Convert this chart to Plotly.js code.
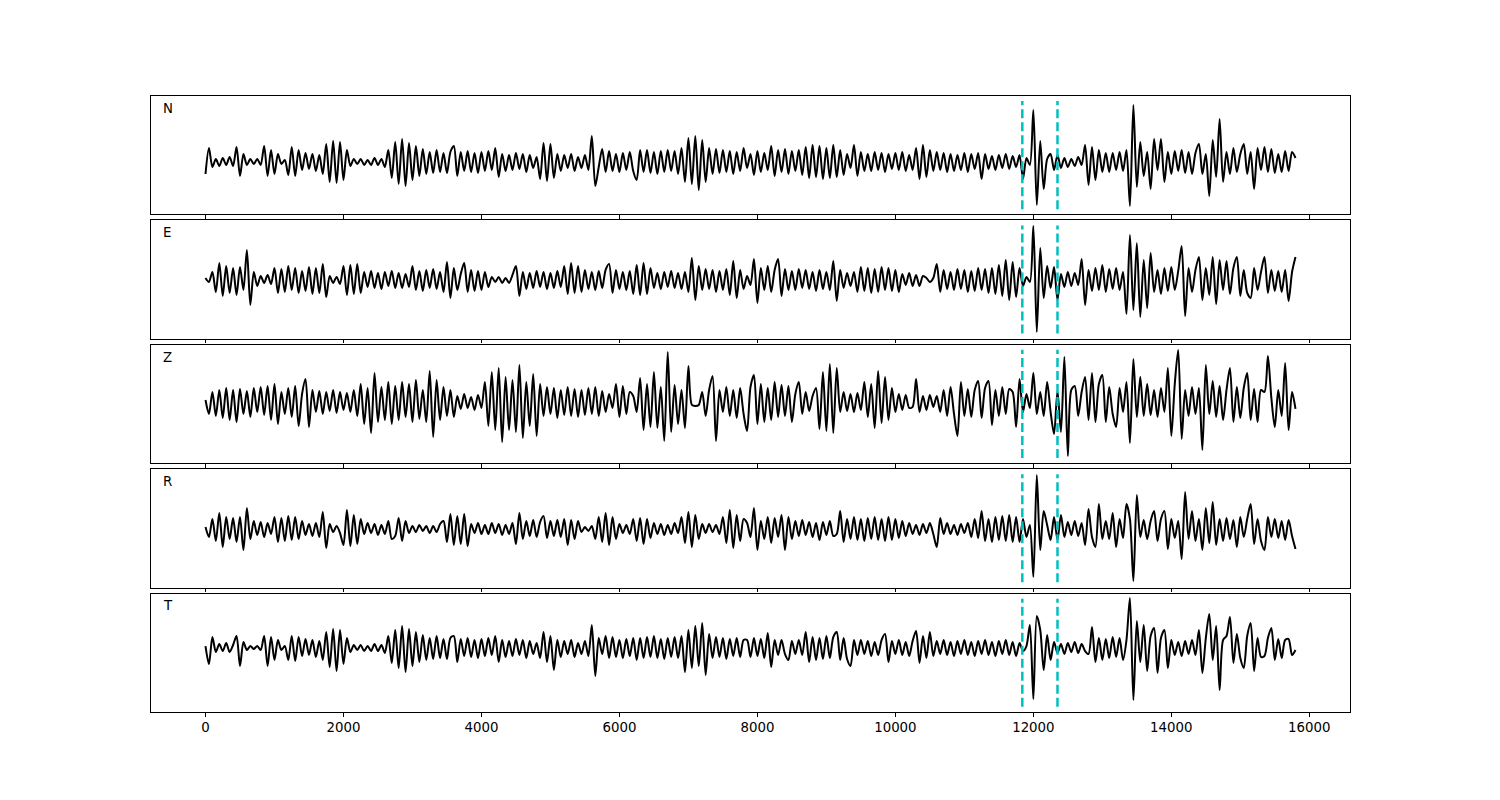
<!DOCTYPE html>
<html>
<head>
<meta charset="utf-8">
<script src="https://cdn.plot.ly/plotly-3.0.1.min.js"></script>
<style>html,body{margin:0;padding:0;background:#fff;}#chart{width:1500px;height:800px;}</style>
</head>
<body>
<div id="chart"></div>
<script>
// sample spacing of the traces (x units)
const dt = 50;
// picked phase times (dashed cyan lines)
const picks = [11840, 12350];
const channels = ['N', 'E', 'Z', 'R', 'T'];
const tickValues = [0, 2000, 4000, 6000, 8000, 10000, 12000, 14000, 16000];

// trace amplitudes (relative units)
const traceN = [
 -12, 14, -5,
 3, -4, 4, -3, 5, -4,
 15, -14, 8,
 -3, 3, -2, 3, -3,
 16, -14, 12, -12, 8,
 -2, 2,
 -13, 15, -14, 12,
 -8, 9, -7, 8, -9, 7,
 -12, 18, -20, 21, -21, 20, -18, 12,
 -4, 3, -2, 3, -3, 2, -3, 4, -3, 3, -5,
 12, -16, 20, -22, 23, -24, 19, -18, 16, -14, 13, -12,
 10, -11, 12, -10, 9, -11, 10,
 16, -14,
 10, -9, 11, -10, 9, -11, 10, -9, 11, -8,
 14, -15,
 8, -9, 7, -8, 9, -7, 8, -10, 7, -6, 5,
 -17, 19, -19, 18, -16,
 8, -9, 7, -6, 8, -9, 5, -6, 7, -8,
 26, -24, -5,
 13, -10, 11, -9, 8, -10, 9, -8, 10, -9,
 -18, 12,
 -10, 12, -11, 10, -12, 11, -10, 12, -9, 11, -12, 14,
 -20, 24, -22, 26, -28, 22, -20, 14,
 -12, 13, -11, 12, -10, 11, -12, 10, -9, 14,
 -6, 8, -13, 11, -10, 9, -8, 16, -14,
 12, -10, 13, -12, 11, -9, 12, -13,
 15, -16, 17, -15, 16, -17, 14, -16, 17, -15, 12, -13, 8,
 -6, 17, -14, 10, -9, 8,
 -9, 10, -8, 9, -10, 8, -7, 9, -8, 10, -9, 7, -8,
 14, -17, 17, -15, 12,
 -9, 10, -8, 9, -10, 8, -9, 7, -8, 9, -10, 8, -7, 9, -17,
 8, -7, 6, -8, 7, -6, 8, -7, 6, -5, 7,
 -17, 4, -3,
 52, -43, 21, -27, 3, 8, -8, 7, -6,
 4, -5, 3, -4, 5, -3,
 17, -23, 15, -18, 12, -10, 9,
 -10, 9, -8, 10, -9, 12,
 -44, 57, -25, 20, -14,
 10, -27, 23, -8, 23, -20,
 10, -12, 11, -9, 12, -11, 10, -12, 9,
 18, -12, 8, -34, 22, -15, 43, -20, 10,
 -12, 14, -10, 8, 18, -12, 10, -27,
 14, -8, 15, -10, 13, -11,
 8, -10, 11, -9, 10, 4
];

const traceE = [
 2, -2,
 8, -12, 17, -16, 14, -13, 12, -15, 13, -10, 30, -25,
 8, -6, 4, -3, 5, -4,
 12, -13, 11, -12, 14, -10, 12, -13, 9, -11,
 13, -14, 12, -13, 16, -17,
 4, -3, 3, -4,
 14, -15, 15, -14, 16, -13,
 8, -7, 9, -8, 7, -9, 8, -6, 9, -8, 7, -8, 6,
 -7, 14, -10, 9, -11, 10, -8, 11, -9, 8,
 -12, 18, -18, 12,
 -10, 6, 17, -12, 10, -11, 9, -10, 8, -7,
 3, -2, 3, -3, 2, -3,
 5, 14, -16, 8, -9, 7, -8, 9, -7, 8, -9, 7, -8, 9, -7,
 14, -14, 17, -13, 14, -12,
 10, -9, 8, -10, 9, -8, 10, 16, -13, 10, -9, 8, -10, 9,
 -14, 15, -15, 17, -14, 12,
 -8, 7, -9, 8, -7, 9, -8, 7, -9, 8,
 -12, 22, -20, 14,
 -10, 11, -9, 10, -12, 9, -10, 11, -15, 19, -18, 10, -9,
 4, -5, 21, -23, 12, -10, 14,
 -12, 10, 21, -16, 11, -10,
 9, -10, 11, -8, 10, -9, 8, -11, 10, -9, 8, -10,
 19, -21, 10,
 -8, 7, -6, 8,
 -12, 13, -11, 12, -13, 11, -12, 13, -10, 12, -11, 10, -12,
 6, -5, 7, -6, 5, -6, 4,
 2, -2, 2,
 16, -12,
 10, -9, 8, -10, 11, -9, 10, -12, 9, -11, 12, -10, 11, -13, 12, -14, 15, -16, 20, -20, 18, -17, 12,
 -6, 3, -2,
 54, -52, 32, -18, 14, -8, 13, -20, 6,
 -7, 8, -6, 7, -5,
 21, -25, 10,
 -11, 12, -10, 15, -12, 11, -9, 12, -10, 8,
 -34, 45, -30, 37, -37, 20, -28, 27, -12,
 10, -14, 12, -11, 13, -10, 9,
 34, -36, 12,
 -12, 10, 23, -20, 12, -15, 23, -24, 20, -10, 19, -14, 12, 23, -16, 10,
 -13, -18, 12, -10, 8, 23, -13, 10, -11, 9, -12, 10, -21, 8, 23
];

const traceZ = [
 2, -12, 10, -14, 12, -16, 14, -18, 12, -20, 13, -12, 11, -15, 14, -10,
 15, -13, 16, -18, 18, -22, 10,
 -12, 14, -15, 16, -24, 8, 23, -25,
 12, -10, 11, -12, 10, -9, 12, -11, 10, -8, 9, -10,
 12, -14, 18, -22, 14, -31, 29, -20,
 15, -18, 20, -22, 16, -18, 20, -15, 18, -20, 22, -17,
 12, -20, 31, -35, 22, -18,
 15, -14, 12, -15,
 6, -7, 8, -6, 5, -8, 7, -6,
 20, -24, 30, -28, 34, -40, 25, -28, 22, -30, 37, -36, 20, -24, 28, -34,
 18, -14, 15, -12, 14, -16, 12, -13, 15, -14, 13, -15, 12, -13, 14, -12, 15, -14, 11, -10, 8,
 -6, 18, -15, 16, -12, 10,
 6, -10, 24, -28, 18, -25, 30, -26, 15, -39, 50, -30, 17, -22, 12, -26, 36,
 -3, -4, -3,
 10, -14, 12,
 26, -39, 12,
 -10, 15, -14, 12, -16, 14, -12,
 -29, 15, 27, -22, 18, -20, 14,
 -18, 20, -15, 17, -14, 16, -20,
 8, 20, -12, 10, -9,
 6, 14, -27, 30, -29, 38, -31, 34, -10,
 10, -9, 8, -10, 9, -8,
 20, -15, 18, -26, 31, -21, 25, -18, 14, -10,
 8, -8, 7, -6, -5,
 23, -10,
 6, -8, 7, -5, 6,
 -10, 12, -14, 15, -12, -34, 20, -14, 13, -15, 12, 21, -16, 14, 21, -23,
 12, -14, 15, -12, 13, 10, -25, 23,
 -10, 8, -6, 29,
 -12, 10, -14, 20, -10, -32, 11, -30, 45, -54, 12,
 16, -14, 10, 25, -18, 29, -20, 18, 27, -20, 15, -12, -25, 14, -10, 20,
 -41, 43, -15,
 25, -14, 18, -13, 12, -15, 14, -10, 34, -34, 18, 52, -37, 12,
 -14, 15, -12, 14,
 -48, 37, -12,
 21, -15, 16, -18, 12, 34, -20, 15, -16, 14, 29, -18, 13, -20, 12,
 10, 46, 4, -25,
 12, -14, 39, -28, 10, -7
];

const traceR = [
 2, -8, 10, -12, 16, -18, 12, -10, 11, -13, 12, -21, 21, -10,
 8, -6, 7, -8, 6, -5,
 12, -13, 11, -12, 13, -11, 12, -10,
 8, -6, 5, -7, 6, -8, 17,
 -19, 5, -3, 3, -4,
 -16, 19, -17, 14, -15, 10,
 -5, 6, -4, 5, -6, 4, -5,
 8, -10, -7, 11, -12, 8,
 -4, 3, -3, 4, -2, 3, -4, 3, -3, 5,
 8, -13, 15, -16, 13, -15, 15, -17,
 5, -4, 6, -5, 4, -5, 6, -4, 5, -6, 4, -5,
 6, -15, 16, -10,
 8, -7, 9, -8, 7, 13, -9, 8, -7, 9, -8,
 10, -16, 9, -10, 8,
 -3, 2, -2, 3,
 -10, 12, -13, 16, -16, 12, -10,
 5, -4, 4, -5,
 10, -12, 11, -15, 10, -9,
 6, -5, 5, -6, 4, -5, 6, -4,
 12, -14, 17, -18, 14, -10,
 5, -4, 5, -3, 4, -5,
 12, -14, 19, -19, 14, -12, 10,
 6, -8, 21, -21, 8,
 -10, 12, -14, 11, -8, 14, -21, 12, -10,
 8, -7, 9, -6, 7, -8, 6, -11, 7, -6, 8, -7, -5,
 18, -13, 10,
 -10, 12, -11, 10, -12, 11, -10, 12, -11, 10, -12, 12, -11, 10, -9, 8, -7,
 6, -5, 4, -6, 5, -4, 6, -5,
 -18, 11, -5,
 6, -5, 4, -6, 5, -4, 6,
 -8, 10, -9, 18, -12, 10, -13, 12, -11, 13, -12, 14, -13, 12, -13,
 10, -8, 4,
 -48, 54, -21, 18, 4, -11, 12, -11, 14,
 -8, 7, -6, 8, -7, 6,
 -16, 20, -8, -18, 25, -10,
 8, -10, 16, -18, 10, -9, 25,
 10, -52, 34, -8,
 9, -10, 8, 18, -12, 10, 18, -20, 10, -9, 8,
 -30, 37, -10,
 18, -12, 10, -21, 21, -14, 27, -16, 10, -12, 11, -10, 9, -18, 12, -8,
 10, 25, -15, 10, -12, -21, 12, -8, 10, -9, 8, -11, 9, -7, -20
];

const traceT = [
 2, -16, 11, -4,
 4, -3, 5, -4, 3,
 12, -18, 6,
 -2, 2, -1, 2, -2,
 12, -18, 11, -12, 8,
 -2, 2,
 -12, 12, -13, 11,
 -8, 9, -7, 8, -9, 7,
 -12, 16, -19, 19, -23, 18, -16, 10,
 -4, 3, -2, 3, -3, 2, -3, 4, -3, 3, -5,
 12, -15, 18, -20, 22, -24, 19, -18, 16, -14, 13, -12,
 10, -11, 12, -10, 9, -11, 10,
 12, -14,
 9, -8, 10, -9, 8, -10, 9, -8, 10, -7,
 12, -14,
 8, -9, 7, -8, 9, -7, 8, -10, 7, -6, 5,
 -10, 16, -14, 12, -22,
 8, -9, 7, -6, 8, -9, 5, -6, 7, -8,
 23, -28, 10,
 -6, 12, -10, 11, -9, 8, -10, 9, -8, 10,
 -12, 10, -10, 11, -9, 12, -10, 9, -11, 10, -9, 11, -10, 12,
 -24, 18, -20, 22, -18, 25, -27, 14,
 -10, 11, -9, 10, -11, 9, -8, 10, -9, 8,
 8, -9, 10, -8, 9, -10, 15, -19, 8,
 -7, 8, -6, -12, 7, -6, 8, -7,
 16, -14, 11, -12, 10, -11, 12, -10, 11, 16, -12, 10, -11, -18, 8,
 -7, 8, -6, 7, -8, 6, -7, 8, 14, -14, 7, -6, 8, -7, 6, -8, 7,
 17, -15, 12, -10, 16,
 -8, 7, -6, 8, -7, 6, -8, 7, -6, 8, -7, 6, -8, 7, -6, 8, -7, 6, -8, 7, -6, 8, -7, 6, -8, 5,
 -3, 2,
 23, -51, 32, 18, -22, 13, -12, 6,
 -5, 4, -6, 5, -4, 6, -5, 4, -3,
 -6, 21, -14,
 10, -12, 9, -10, 11, -9, 10, -12, 8,
 50, -52, 27, -14, 23, -23, 12, 20, -25, 10, 18, -20,
 8, -7, 6, -8, 7, -6, 8, -7,
 18, -25, 10,
 34, -12, 22, -42, 8, 12, 31, -15,
 14, -10, -20, 12, 25, -23,
 10, -9, -8, 10, 20, -12, 9, -10, 8, 9, -7, -2
];

const traces = [traceN, traceE, traceZ, traceR, traceT];
// vertical view of each panel (same units as the amplitudes)
const yRanges = [[-52.5, 66], [-58.9, 59.6], [-61.3, 57.2], [-58.6, 59.9], [-64, 54.5]];

const nPanels = traces.length;
const gridTop = 0.88, gridBottom = 0.11, hspace = 0.05;
const ph = (gridTop - gridBottom) / (nPanels + (nPanels - 1) * hspace);
const xDomain = [151 / 1500, 1350 / 1500];
const fontFam = 'DejaVu Sans, Liberation Sans, sans-serif';

const data = [];
const layout = {
  width: 1500, height: 800,
  margin: {l: 0, r: 0, t: 0, b: 0},
  paper_bgcolor: '#ffffff', plot_bgcolor: '#ffffff',
  showlegend: false,
  shapes: [], annotations: [],
  font: {family: fontFam, size: 13.33, color: '#000'}
};

traces.forEach((amp, k) => {
  const sfx = k === 0 ? '' : String(k + 1);
  const t = amp.map((_, i) => i * dt);
  data.push({
    type: 'scatter', mode: 'lines', x: t, y: amp,
    xaxis: 'x' + sfx, yaxis: 'y' + sfx,
    line: {color: '#000000', width: 2, shape: 'spline', smoothing: 0.8},
    hoverinfo: 'skip'
  });
  const yTop = gridTop - k * ph * (1 + hspace);
  const yBot = yTop - ph;
  layout['xaxis' + sfx] = {
    domain: xDomain, anchor: 'y' + sfx,
    range: [-790, 16590], showgrid: false, zeroline: false,
    showline: true, mirror: true, linecolor: '#000', linewidth: 1,
    ticks: 'outside', ticklen: 3.5, tickwidth: 1, tickcolor: '#000',
    tickmode: 'array', tickvals: tickValues,
    ticktext: tickValues.map(String),
    showticklabels: k === nPanels - 1,
    tickfont: {family: fontFam, size: 13.33, color: '#000'}
  };
  layout['yaxis' + sfx] = {
    domain: [yBot, yTop], anchor: 'x' + sfx,
    range: yRanges[k], showgrid: false, zeroline: false,
    showline: true, mirror: true, linecolor: '#000', linewidth: 1,
    ticks: '', showticklabels: false
  };
  picks.forEach(p => {
    layout.shapes.push({
      type: 'line', xref: 'x' + sfx, yref: 'y' + sfx + ' domain',
      x0: p, x1: p, y0: 0.045, y1: 0.957,
      line: {color: '#00bfbf', width: 2.5, dash: '9px,4px'}
    });
  });
  layout.annotations.push({
    xref: 'x' + sfx + ' domain', yref: 'y' + sfx + ' domain',
    x: 0.0085, y: 0.895, xanchor: 'left', yanchor: 'middle',
    text: channels[k], showarrow: false,
    font: {family: fontFam, size: 13.33, color: '#000'}
  });
});

Plotly.newPlot('chart', data, layout, {staticPlot: true, displayModeBar: false});
</script>
</body>
</html>
